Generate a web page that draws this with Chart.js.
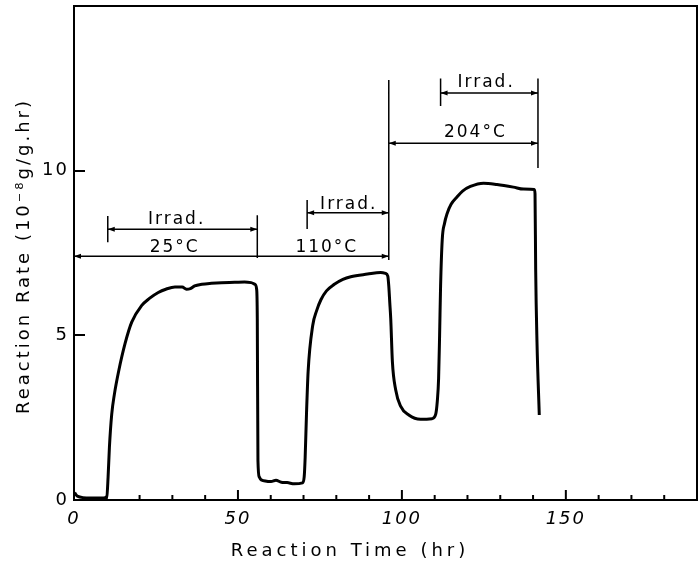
<!DOCTYPE html>
<html>
<head>
<meta charset="utf-8">
<script src="https://cdn.jsdelivr.net/npm/chart.js@4.4.0/dist/chart.umd.min.js"></script>
<style>
  html, body { margin: 0; padding: 0; background: #fff; }
  #wrap { width: 698px; height: 565px; }
</style>
</head>
<body>
<div id="wrap"><canvas id="rateChart"></canvas></div>
<script>
// ===========================
// DATA
// ===========================
const timeHr = [
    0.2, 1, 5, 9, 10, 10.4, 10.8, 11.5, 12.3, 13.6,
    15.6, 17.6, 20.6, 23, 25.7, 28, 30.8, 33, 34.3, 35.5,
    36.8, 39, 41.9, 45, 49, 52, 54, 55.2, 55.7, 55.9,
    56.1, 56.5, 57.1, 60.1, 61.6, 63.2, 65, 67.2, 69.7, 70.2,
    70.5, 70.9, 71.4, 72.8, 74, 75.3, 77, 79.4, 82, 84.4,
    89.5, 93.5, 95, 95.7, 96, 96.3, 96.6, 97.1, 98.1, 99.6,
    102.1, 105.7, 109.2, 110.3, 110.8, 111.2, 111.5, 111.8, 112.3, 113,
    113.8, 115, 116.8, 118.5, 120.9, 124.9, 129, 134, 137.1, 140.4,
    140.6, 140.8, 141.2, 141.9
];
const rate = [
    0.22, 0.12, 0.06, 0.06, 0.1, 0.7, 1.6, 2.6, 3.2, 3.9,
    4.76, 5.4, 5.9, 6.12, 6.3, 6.4, 6.47, 6.47, 6.4, 6.42,
    6.5, 6.55, 6.58, 6.6, 6.61, 6.62, 6.6, 6.55, 6.4, 5.5,
    1.2, 0.7, 0.61, 0.56, 0.6, 0.54, 0.53, 0.49, 0.52, 0.7,
    1.3, 2.6, 3.9, 5.3, 5.75, 6.08, 6.35, 6.55, 6.7, 6.78,
    6.86, 6.91, 6.88, 6.8, 6.5, 6.0, 5.5, 4.2, 3.35, 2.85,
    2.58, 2.45, 2.47, 2.6, 3.0, 3.7, 5.0, 6.5, 7.9, 8.4,
    8.7, 8.98, 9.2, 9.38, 9.52, 9.62, 9.58, 9.5, 9.44, 9.43,
    9.3, 7.0, 4.8, 2.58
];

// bracket lines of the temperature / irradiation periods (null = break)
const bracketX = [
    0, 96, null,
    55.9, 55.9, null,
    10.3, 10.3, null,
    10.3, 55.9, null,
    71.1, 71.1, null,
    71.1, 96, null,
    96, 96, null,
    96, 141.5, null,
    141.5, 141.5, null,
    111.8, 111.8, null,
    111.8, 141.5
];
const bracketY = [
    7.4, 7.4, null,
    7.35, 8.65, null,
    7.83, 8.62, null,
    8.22, 8.22, null,
    8.23, 9.11, null,
    8.72, 8.72, null,
    7.29, 12.75, null,
    10.83, 10.83, null,
    10.08, 12.8, null,
    11.96, 12.8, null,
    12.36, 12.36
];

// period labels
const labelText = ["Irrad.", "25°C", "Irrad.", "110°C", "Irrad.", "204°C"];
const labelX = [31.3, 30.7, 83.8, 77.1, 125.7, 122.4];
const labelY = [8.5, 7.65, 8.96, 7.65, 12.66, 11.15];

const xTickLabels = [0, 50, 100, 150];
const yTickLabels = [0, 5, 10];

const xTitle = "Reaction Time (hr)";
const yTitle = "Reaction Rate (10\u207B\u2078g/g.hr)";

const FONT = "'DejaVu Sans', sans-serif";

// ===========================
// FRAME, INWARD TICKS, ARROWS AND TEXT
// ===========================
const figurePlugin = {
    id: "figure",
    beforeDraw(chart) {
        // wide lettering like the original stencil text
        chart.ctx.letterSpacing = "2px";
    },
    afterDraw(chart) {
        const ctx = chart.ctx;
        const area = chart.chartArea;
        const xs = chart.scales.x;
        const ys = chart.scales.y;

        ctx.save();
        ctx.letterSpacing = "0px";
        ctx.strokeStyle = "#000";
        ctx.fillStyle = "#000";
        ctx.lineWidth = 2;
        ctx.strokeRect(area.left, area.top, area.right - area.left, area.bottom - area.top);

        // inward ticks, every 10 hr on x
        for (let v = xs.min + 10; v < xs.max; v += 10) {
            const px = xs.getPixelForValue(v);
            const len = v % 50 === 0 ? 10 : 5;
            ctx.beginPath();
            ctx.moveTo(px, area.bottom);
            ctx.lineTo(px, area.bottom - len);
            ctx.stroke();
        }
        // inward ticks at the labelled y values
        yTickLabels.forEach(v => {
            if (v === 0) return;
            const py = Math.round(ys.getPixelForValue(v));
            ctx.fillRect(area.left, py - 1, 11, 2);
        });

        // small arrowheads at the ends of the horizontal bracket lines
        for (let i = 0; i + 1 < bracketX.length; i += 3) {
            if (bracketY[i] !== bracketY[i + 1]) continue;
            const py = ys.getPixelForValue(bracketY[i]);
            const ends = [
                [xs.getPixelForValue(bracketX[i]), -1],
                [xs.getPixelForValue(bracketX[i + 1]), 1]
            ];
            ends.forEach(([px, dir]) => {
                ctx.beginPath();
                ctx.moveTo(px, py);
                ctx.lineTo(px - dir * 7, py - 2.5);
                ctx.lineTo(px - dir * 7, py + 2.5);
                ctx.closePath();
                ctx.fill();
            });
        }

        // period labels
        ctx.textAlign = "center";
        ctx.textBaseline = "middle";
        ctx.font = "17px " + FONT;
        ctx.letterSpacing = "2px";
        labelText.forEach((txt, i) => {
            ctx.fillText(txt, xs.getPixelForValue(labelX[i]), ys.getPixelForValue(labelY[i]));
        });

        // axis titles
        ctx.font = "18px " + FONT;
        ctx.letterSpacing = "4px";
        ctx.fillText(xTitle, 350, 551);

        ctx.letterSpacing = "3px";
        ctx.translate(24, 256);
        ctx.rotate(-Math.PI / 2);
        ctx.fillText(yTitle, 0, 0);
        ctx.restore();
        ctx.letterSpacing = "0px";
    }
};

// ===========================
// CHART
// ===========================
const ctx = document.getElementById("rateChart").getContext("2d");

new Chart(ctx, {
    type: "line",
    data: {
        datasets: [
            {
                label: "Reaction rate",
                data: timeHr.map((t, i) => ({ x: t, y: rate[i] })),
                borderColor: "#000",
                borderWidth: 3,
                pointRadius: 0,
                cubicInterpolationMode: "monotone",
                fill: false
            },
            {
                label: "Periods",
                data: bracketX.map((t, i) => ({ x: t, y: bracketY[i] })),
                borderColor: "#000",
                borderWidth: 1.5,
                pointRadius: 0,
                spanGaps: false,
                tension: 0,
                fill: false
            }
        ]
    },
    options: {
        responsive: true,
        maintainAspectRatio: false,
        animation: false,
        layout: { padding: { left: 0, right: 1, top: 6, bottom: 0 } },
        plugins: {
            legend: { display: false },
            tooltip: { enabled: false }
        },
        scales: {
            x: {
                type: "linear",
                min: 0,
                max: 190,
                grid: { display: false, drawTicks: false },
                border: { display: false },
                ticks: {
                    stepSize: 10,
                    autoSkip: false,
                    maxRotation: 0,
                    padding: 9,
                    color: "#000",
                    font: { family: FONT, size: 18, style: "italic" },
                    callback: v => xTickLabels.includes(v) ? String(v) : null
                },
                afterFit(scale) {
                    scale.height = 65;
                    scale.paddingLeft = 0;
                    scale.paddingRight = 0;
                }
            },
            y: {
                min: 0,
                max: 15,
                grid: { display: false, drawTicks: false },
                border: { display: false },
                ticks: {
                    stepSize: 5,
                    autoSkip: false,
                    padding: 5,
                    color: "#000",
                    font: { family: FONT, size: 18 },
                    callback: v => yTickLabels.includes(v) ? String(v) : null
                },
                afterFit(scale) {
                    scale.width = 74;
                    scale.paddingTop = 0;
                    scale.paddingBottom = 0;
                }
            }
        }
    },
    plugins: [figurePlugin]
});
</script>
</body>
</html>
